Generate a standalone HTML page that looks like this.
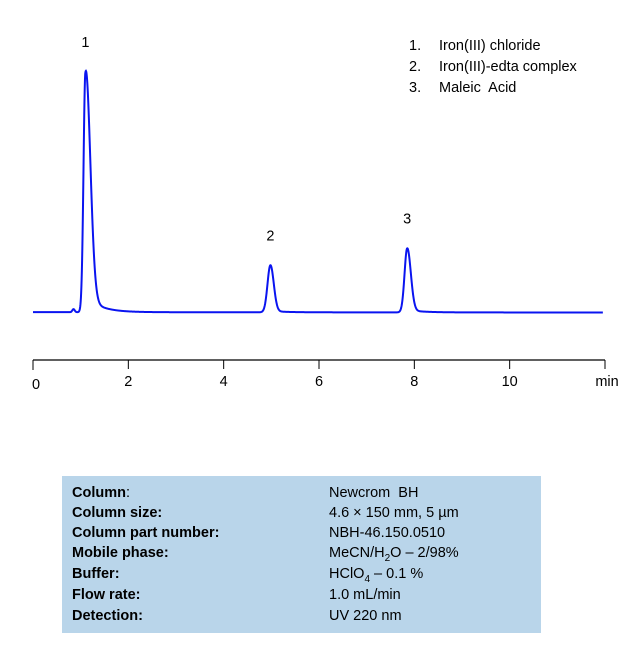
<!DOCTYPE html>
<html><head><meta charset="utf-8"><style>
body{margin:0;background:#fff;width:643px;height:663px;overflow:hidden;font-family:"Liberation Sans",Arial,sans-serif;}
#c{position:absolute;left:0;top:0}
.tbl{position:absolute;left:62px;top:476px;width:479px;height:157px;background:#b9d5ea;font-size:14.5px;color:#000}
.row{position:absolute;left:10px;height:20px}
.k{position:absolute;left:0;font-weight:bold;white-space:nowrap}
.v{position:absolute;left:257px;white-space:nowrap}
</style></head><body>
<svg id="c" width="643" height="663" font-family="Liberation Sans, Arial, sans-serif">
<g id="axis"></g>
<path id="trace" fill="none" stroke="#0a14f0" stroke-width="2"/>
<g id="plabels"></g>
<g font-size="14.5" fill="#000">
<text x="409" y="50">1.</text><text x="439" y="50">Iron(III) chloride</text>
<text x="409" y="71">2.</text><text x="439" y="71">Iron(III)-edta complex</text>
<text x="409" y="92">3.</text><text x="439" y="92">Maleic&#160; Acid</text>
</g>
</svg>
<div class="tbl">
<div class="row" style="top:9px"><span class="k">Column<span style="font-weight:normal">:</span></span><span class="v">Newcrom&#160; BH</span></div>
<div class="row" style="top:29px"><span class="k">Column size:</span><span class="v">4.6 × 150 mm, 5 µm</span></div>
<div class="row" style="top:49px"><span class="k">Column part number:</span><span class="v">NBH-46.150.0510</span></div>
<div class="row" style="top:69px"><span class="k">Mobile phase:</span><span class="v">MeCN/H<sub style="font-size:10px">2</sub>O – 2/98%</span></div>
<div class="row" style="top:90px"><span class="k">Buffer:</span><span class="v">HClO<sub style="font-size:10px">4</sub> – 0.1 %</span></div>
<div class="row" style="top:111px"><span class="k">Flow rate:</span><span class="v">1.0 mL/min</span></div>
<div class="row" style="top:132px"><span class="k">Detection:</span><span class="v">UV 220 nm</span></div>
</div>
<script>
const tickLabels=[0,2,4,6,8,10];
const peakNames=["1","2","3"];
const peakTimes=[1.1,4.98,7.85];
const peakHeights=[240,47,64];
const peakSigL=[0.04,0.06,0.055];
const peakSigR=[0.1,0.07,0.075];
const peakTail=[0.07,0.03,0.04];
const bumpTime=0.85, bumpHeight=3;
const tMax=12;
const X=t=>33+t*(605-33)/tMax;
const Y=v=>312.5-v;
const ns="http://www.w3.org/2000/svg";
const ax=document.getElementById('axis');
function el(n,a,p){const e=document.createElementNS(ns,n);for(const k in a)e.setAttribute(k,a[k]);p.appendChild(e);return e;}
const al=el('line',{x1:X(0),x2:X(tMax),y1:360,y2:360,stroke:'#000','stroke-width':1.3},ax);


for(let t=0;t<=tMax;t+=2){el('line',{x1:X(t),x2:X(t),y1:360,y2:t==0?370:369,stroke:'#000','stroke-width':1},ax);}
tickLabels.forEach(v=>{const tx=el('text',{x:X(v)+(v==0?3:0),y:v==0?389:386,'text-anchor':'middle','font-size':14.5},ax);tx.textContent=v;

});
const mt=el('text',{x:607,y:386,'text-anchor':'middle','font-size':14.5},ax);mt.textContent='min';


function sig(t){let s=0.7*(1-t/tMax)*0.5;
s+=bumpHeight*Math.exp(-Math.pow((t-bumpTime)/0.025,2)/2);
for(let i=0;i<peakTimes.length;i++){const d=t-peakTimes[i];const sg=d<0?peakSigL[i]:peakSigR[i];
s+=peakHeights[i]*Math.exp(-d*d/(2*sg*sg));
if(d>0)s+=peakHeights[i]*peakTail[i]*(1-Math.exp(-d/0.06))*Math.exp(-d/0.3);}
return s;}
let d='';for(let t=0;t<=11.96;t+=0.005){d+=(d?'L':'M')+X(t).toFixed(2)+','+Y(sig(t)).toFixed(2);}
document.getElementById('trace').setAttribute('d',d);
const pl=document.getElementById('plabels');
peakNames.forEach((n,i)=>{const tx=el('text',{x:X(peakTimes[i]),y:Y(sig(peakTimes[i]))-25,'text-anchor':'middle','font-size':14.5},pl);tx.textContent=n;

});
</script>
</body></html>
